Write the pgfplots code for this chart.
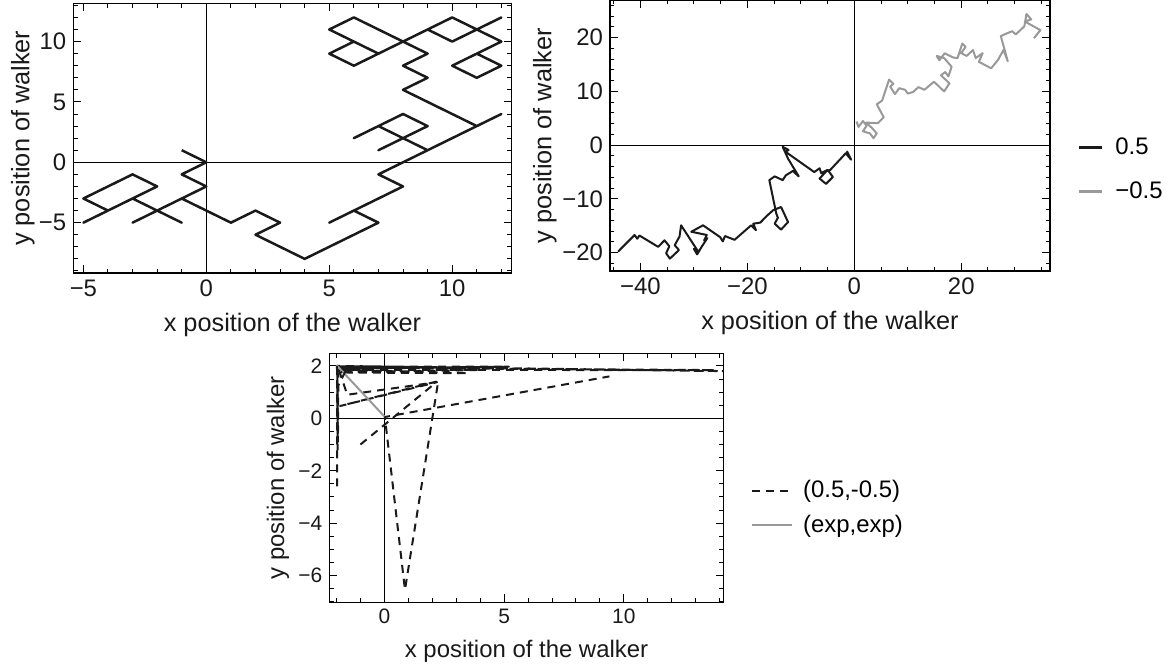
\documentclass[border=0pt]{standalone}
\usepackage{fontspec}
\setmainfont{Liberation Sans}
\usepackage{pgfplots}
\pgfplotsset{compat=1.18}

\definecolor{walkblack}{HTML}{1A1A1A}
\definecolor{walkgray}{HTML}{999999}

\newcommand{\labelfont}{\fontsize{12.7}{15}\selectfont}
\newcommand{\smalllabelfont}{\fontsize{12}{14}\selectfont}

\pgfplotsset{
  walkframe/.style={
    scale only axis, anchor=south west,
    axis line style={black, line width=0.7bp},
    tick pos=both, tick align=inside,
    major tick length=4bp, minor tick length=2.2bp,
    every tick/.style={black, line width=0.5bp},
    tick label style={font=\fontsize{12}{14}\selectfont, text=black!90},
    xlabel={x position of the walker},
    ylabel={y position of walker},
  },
  dashwalk/.style={walkblack, line width=1bp, dash pattern=on 4bp off 3bp, line join=round},
}

\begin{document}
\begin{tikzpicture}
\useasboundingbox (0,0) rectangle (585.5bp,-334bp);

% ---------- lattice walk ----------
\begin{axis}[walkframe,
  at={(36.65bp,-136.5bp)}, width=219.2bp, height=134.85bp,
  xmin=-5.41, xmax=12.42, ymin=-9.17, ymax=13.17,
  xtick={-5,0,5,10}, xticklabels={−5,0,5,10},
  ytick={-5,0,5,10}, yticklabels={−5,0,5,10},
  minor xtick={-5,-4,...,12}, minor ytick={-9,-8,...,13},
  every axis x label/.style={at={(0.5,-0.193)}, anchor=center},
  every axis y label/.style={at={(-0.115,0.5)}, rotate=90, anchor=center},
  xlabel style={font=\labelfont, text=black!90},
  ylabel style={font=\labelfont, text=black!90},
]
\draw[line width=0.6bp] (axis cs:0,-9.17) -- (axis cs:0,13.17);
\draw[line width=0.6bp] (axis cs:-5.41,0) -- (axis cs:12.42,0);
\addplot[walkblack, line width=1.25bp, line join=round] coordinates {
(-1,1) (0,0) (-1,-1) (0,-2) (-1,-3) (-2,-4) (-3,-5) (-2,-4) (-1,-5) (-2,-4)
(-3,-3) (-4,-4) (-5,-5) (-4,-4) (-5,-3) (-4,-2) (-3,-1) (-2,-2) (-3,-3) (-2,-4)
(-1,-3) (0,-4) (1,-5) (2,-4) (3,-5) (2,-6) (3,-7) (4,-8) (5,-7) (6,-6) (7,-5)
(6,-4) (5,-5) (6,-4) (7,-3) (8,-2) (7,-1) (8,0) (9,1) (8,2) (7,1) (8,2) (7,3)
(6,2) (7,3) (8,4) (9,3) (8,2) (9,1) (10,2) (11,3) (12,4) (11,3) (10,4) (9,5)
(8,6) (9,7) (8,8) (9,9) (8,10) (7,11) (6,12) (5,11) (6,10) (5,9) (6,8) (7,9)
(6,10) (7,9) (8,10) (9,11) (10,12) (11,11) (12,12) (11,11) (10,10) (9,11)
(10,10) (11,11) (12,10) (11,9) (10,8) (11,7) (12,8) (11,9)
};
\end{axis}

% ---------- two drifting walks ----------
\begin{axis}[walkframe,
  at={(305bp,-135.5bp)}, width=220bp, height=135.5bp,
  xmin=-45.7, xmax=36.6, ymin=-23.4, ymax=27.0,
  xtick={-40,-20,0,20}, xticklabels={−40,−20,0,20},
  ytick={-20,-10,0,10,20}, yticklabels={−20,−10,0,10,20},
  minor xtick={-45,-40,...,35}, minor ytick={-22,-20,...,26},
  every axis x label/.style={at={(0.5,-0.193)}, anchor=center},
  every axis y label/.style={at={(-0.148,0.5)}, rotate=90, anchor=center},
  xlabel style={font=\labelfont, text=black!90},
  ylabel style={font=\labelfont, text=black!90},
  legend style={at={(1.061,0.3745)}, anchor=west, draw=none, fill=none,
    inner sep=0pt, font=\fontsize{12}{14}\selectfont, row sep=8bp,
    /tikz/every odd column/.append style={column sep=4bp}},
  legend cell align=left,
  legend image code/.code={\draw[#1, line width=1.6bp] (0bp,0bp) -- (11.5bp,0bp);},
]
\draw[line width=0.6bp] (axis cs:0,-23.4) -- (axis cs:0,27.0);
\draw[line width=0.6bp] (axis cs:-45.7,0) -- (axis cs:36.6,0);
\addplot[walkblack, line width=1bp, line join=round] coordinates {
(-44.2,-19.8) (-41.1,-16.7) (-40.6,-17.4) (-40.2,-16.8) (-36.7,-18.9)
(-35.5,-17.7) (-34.6,-18.8) (-35.2,-20.1) (-34.5,-21.1) (-32.8,-19.5)
(-33.6,-18.6) (-32.7,-17.0) (-32.4,-14.9) (-29.2,-19.8) (-30.0,-19.3)
(-29.4,-20.3) (-28.5,-18.8) (-27.5,-17.3) (-28.1,-17.7) (-27.6,-16.7)
(-30.5,-16.1) (-28.3,-14.9) (-25.1,-17.1) (-24.6,-17.9) (-24.2,-16.9)
(-22.4,-17.6) (-19.3,-14.9) (-18.4,-15.8) (-18.9,-14.6) (-17.6,-14.4)
(-16.2,-13.0) (-15.2,-12.1) (-13.7,-11.5) (-12.4,-14.3) (-13.7,-15.7)
(-14.9,-14.6) (-14.3,-13.5) (-14.6,-12.7) (-15.9,-6.5) (-14.9,-5.8)
(-13.4,-6.5) (-12.8,-5.6) (-11.5,-4.8) (-10.4,-5.8) (-12.4,-2.5)
(-13.4,-0.3) (-12.3,-0.9) (-12.9,-1.2) (-7.5,-5.0) (-6.5,-4.3)
(-6.2,-5.2) (-5.0,-4.6) (-4.0,-5.9) (-5.3,-7.2) (-6.5,-6.2)
(-5.2,-4.8) (-4.5,-4.6) (-1.6,-1.5) (-0.6,-2.7) (-1.4,-1.1)
};
\addlegendentry{0.5}
\addplot[walkgray, line width=1bp, line join=round] coordinates {
(0.4,4.4) (0.8,3.4) (1.6,4.5) (2.3,3.6) (1.6,2.6) (2.9,2.2) (3.6,1.3)
(4.2,2.2) (3.3,3.2) (2.2,4.2) (4.4,4.1) (5.5,5.2) (4.2,7.6) (5.2,8.3)
(6.5,12.2) (7.3,11.4) (6.7,10.9) (7.6,9.5) (8.4,10.6) (9.5,10.3)
(10.0,9.6) (11.0,9.9) (12.0,10.8) (13.1,10.3) (14.9,11.8) (16.8,10.0)
(17.8,11.5) (16.2,13.0) (17.0,13.6) (17.6,12.8) (18.2,14.6) (16.8,16.2)
(15.4,16.6) (15.9,15.8) (16.9,17.1) (18.5,16.3) (19.3,16.2) (20.2,18.9)
(20.8,18.3) (20.0,17.1) (21.0,16.6) (22.2,17.7) (22.7,16.2) (24.0,17.1)
(23.3,15.5) (25.6,14.3) (26.9,15.9) (27.9,17.7) (28.7,15.6) (27.4,20.3)
(29.5,21.2) (30.2,20.6) (31.8,22.1) (32.2,24.4) (33.1,23.4) (31.9,23.0)
(34.8,21.4) (33.6,19.9)
};
\addlegendentry{−0.5}
\end{axis}

% ---------- comparison walk ----------
\begin{axis}[walkframe,
  at={(164.65bp,-301.15bp)}, width=197.2bp, height=124.5bp,
  xmin=-2.30, xmax=14.17, ymin=-7.02, ymax=2.48,
  xtick={0,5,10}, xticklabels={0,5,10},
  ytick={-6,-4,-2,0,2}, yticklabels={−6,−4,−2,0,2},
  minor xtick={-2,-1,...,14}, minor ytick={-7,-6.5,...,2.5},
  tick label style={font=\fontsize{10.5}{12}\selectfont, text=black!90},
  every axis x label/.style={at={(0.5,-0.196)}, anchor=center},
  every axis y label/.style={at={(-0.13,0.5)}, rotate=90, anchor=center},
  xlabel style={font=\smalllabelfont, text=black!90},
  ylabel style={font=\smalllabelfont, text=black!90},
  legend style={at={(1.0685,0.3795)}, anchor=west, draw=none, fill=none,
    inner sep=0pt, font=\fontsize{12}{14}\selectfont, row sep=3bp,
    /tikz/every odd column/.append style={column sep=3bp}},
  legend cell align=left,
  legend image code/.code={\draw[#1] (0bp,0bp) -- (20bp,0bp);},
]
\draw[line width=0.6bp] (axis cs:0,-7.02) -- (axis cs:0,2.48);
\draw[line width=0.6bp] (axis cs:-2.30,0) -- (axis cs:14.17,0);
\addplot[dashwalk] coordinates {
(-1.97,-2.6) (-1.97,1.95) (-1.95,-1.2) (-1.96,2.0) (14.3,1.8) (-1.9,1.98)
(5.2,1.97) (-1.85,1.9) (4.2,1.85) (-1.8,1.75) (3.5,1.72) (-1.9,1.85)
(13.8,1.84) (-1.93,1.93) (-1.55,0.9) (2.2,1.38) (-1.85,0.47) (2.25,1.42)
(0.86,-6.54) (0.02,0.05) (9.4,1.6)
};
\addlegendentry{(0.5,-0.5)}
\addplot[walkgray, line width=1bp] coordinates {(0.0,0.07) (-2.0,2.03)};
\addlegendentry{(exp,exp)}
\addplot[dashwalk, forget plot] coordinates {(-1.0,-1.0) (2.2,1.4)};
\addplot[dashwalk, forget plot] coordinates {(-1.98,1.99) (-1.94,-0.9) (-1.92,1.7) (-1.6,1.85) (-1.95,1.2)};
\end{axis}
\end{tikzpicture}
\end{document}
